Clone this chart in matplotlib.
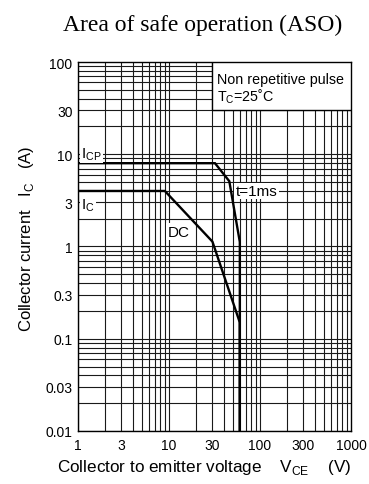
import numpy as np
import matplotlib.pyplot as plt

plt.rcParams['font.family'] = ['Liberation Sans', 'DejaVu Sans']

# Pulse (t=1ms) limit
pulse_v = [1, 32, 46, 60, 60]
pulse_i = [8, 8, 5.1, 1.12, 0.01]

# DC limit
dc_v = [1, 9, 30, 60, 60]
dc_i = [4, 4, 1.13, 0.15, 0.01]

x_ticks = [1, 3, 10, 30, 100, 300, 1000]
x_labels = ['1', '3', '10', '30', '100', '300', '1000']
y_ticks = [0.01, 0.03, 0.1, 0.3, 1, 3, 10, 30, 100]
y_labels = ['0.01', '0.03', '0.1', '0.3', '1', '3', '10', '30', '100']

fig = plt.figure(figsize=(3.69, 4.85), dpi=100)
ax = fig.add_axes([0.2114, 0.1093, 0.7398, 0.7608])
ax.set_xscale('log')
ax.set_yscale('log')
ax.set_xlim(1, 1000)
ax.set_ylim(0.01, 100)

# grid lines at 1..9 of every decade
for d in [1, 10, 100]:
    for k in range(1, 10):
        ax.axvline(d * k, color='#1a1a1a', lw=0.8, zorder=1)
for d in [0.01, 0.1, 1, 10]:
    for k in range(1, 10):
        ax.axhline(d * k, color='#1a1a1a', lw=0.8, zorder=1)

ax.plot(pulse_v, pulse_i, color='black', lw=1.7, zorder=3, solid_joinstyle='miter')
ax.plot(dc_v, dc_i, color='black', lw=1.7, zorder=3, solid_joinstyle='miter')

ax.set_xticks(x_ticks)
ax.set_xticklabels(x_labels)
ax.set_yticks(y_ticks)
ax.set_yticklabels(y_labels)
ax.minorticks_off()
ax.tick_params(length=0, labelsize=10)
ax.tick_params(axis='x', pad=5)
ax.tick_params(axis='y', pad=4)
for s in ax.spines.values():
    s.set_linewidth(1.0)
    s.set_zorder(5)

box = dict(facecolor='white', edgecolor='none', pad=1.0)
ax.text(1.08, 10.2, r'I$_\mathregular{CP}$', fontsize=11, va='center', ha='left', bbox=box, zorder=4)
ax.text(1.08, 2.85, r'I$_\mathregular{C}$', fontsize=11, va='center', ha='left', bbox=box, zorder=4)
ax.text(12.8, 1.45, 'DC', fontsize=11, va='center', ha='center', bbox=box, zorder=4)
ax.text(91, 4.0, 't=1ms', fontsize=11, va='center', ha='center', bbox=box, zorder=4)

# note box in the upper right corner
ax.fill_between([29.6, 1000], 30.2, 100, facecolor='white', edgecolor='none', zorder=2)
ax.plot([29.6, 29.6, 1000], [100, 30.2, 30.2], color='black', lw=1.0, zorder=2)
ax.text(33.5, 66, 'Non repetitive pulse', fontsize=10.3, va='center', ha='left', zorder=4)
ax.text(33.5, 43, r'T$_\mathregular{C}$=25˚C', fontsize=10.3, va='center', ha='left', zorder=4)

fig.text(0.55, 0.948, 'Area of safe operation (ASO)', family='Liberation Serif',
         fontsize=17, ha='center', va='center')
fig.text(0.553, 0.037, r'Collector to emitter voltage    V$_\mathregular{CE}$    (V)',
         fontsize=12.3, ha='center', va='center')
fig.text(0.073, 0.508, r'Collector current   I$_\mathregular{C}$   (A)',
         fontsize=12, ha='center', va='center', rotation=90)

fig.savefig('out.png', dpi=100)
